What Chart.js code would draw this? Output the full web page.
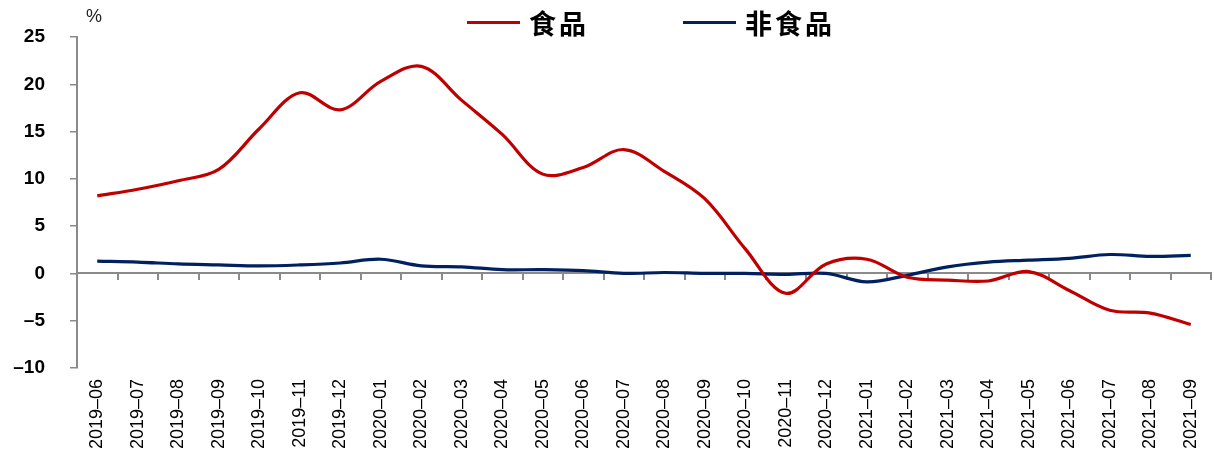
<!DOCTYPE html>
<html>
<head>
<meta charset="utf-8">
<script src="https://cdn.jsdelivr.net/npm/chart.js@4/dist/chart.umd.min.js"></script>
<style>
  html, body { margin: 0; padding: 0; background: #fff; }
  #wrap { position: relative; width: 1214px; height: 452px; overflow: hidden; }
  #c { position: absolute; left: 0; top: 0; }
  .unit { position: absolute; left: 86px; top: 6px; font: 18px "Liberation Sans", Arial, sans-serif; color: #222; }
  .leg { position: absolute; top: 5px; height: 34px; display: flex; align-items: center; white-space: nowrap;
         font: bold 27px "Noto Sans CJK SC", sans-serif; letter-spacing: 3px; color: #000; }
  .leg i { display: inline-block; width: 53px; height: 3px; margin-right: 9px; }
</style>
</head>
<body>
<div id="wrap">
  <canvas id="c" width="1214" height="452"></canvas>
  <div class="unit">%</div>
  <div id="legend"></div>
</div>
<script>
// Monthly categories, 2019-06 .. 2021-09
const months = [
  '2019–06', '2019–07', '2019–08', '2019–09', '2019–10', '2019–11', '2019–12',
  '2020–01', '2020–02', '2020–03', '2020–04', '2020–05', '2020–06', '2020–07',
  '2020–08', '2020–09', '2020–10', '2020–11', '2020–12', '2021–01', '2021–02',
  '2021–03', '2021–04', '2021–05', '2021–06', '2021–07', '2021–08', '2021–09'
];

// Year-on-year change, %
const foodYoY = [
  8.2, 8.9, 9.8, 11.0, 15.3, 19.1, 17.3,
  20.3, 21.9, 18.3, 14.7, 10.5, 11.2, 13.1,
  10.8, 7.9, 2.6, -2.1, 1.0, 1.5, -0.4,
  -0.7, -0.8, 0.2, -1.8, -3.9, -4.2, -5.4
];
const nonFoodYoY = [
  1.3, 1.2, 1.0, 0.9, 0.8, 0.9, 1.1,
  1.5, 0.8, 0.7, 0.4, 0.4, 0.3, 0.0,
  0.1, 0.0, 0.0, -0.1, 0.0, -0.9, -0.2,
  0.7, 1.2, 1.4, 1.6, 2.0, 1.8, 1.9
];

// Value axis range
const yMin = -10;
const yMax = 25;
const yStep = 5;

const seriesNames = ['食品', '非食品'];
const seriesColors = ['#C00000', '#002060'];

const AXIS_GRAY = '#8a8a8a';

const chart = new Chart(document.getElementById('c'), {
  type: 'line',
  data: {
    labels: months,
    datasets: [
      { label: seriesNames[0], data: foodYoY, borderColor: seriesColors[0], backgroundColor: seriesColors[0],
        borderWidth: 3.2, pointRadius: 0, tension: 0.35, xAxisID: 'x', yAxisID: 'y' },
      { label: seriesNames[1], data: nonFoodYoY, borderColor: seriesColors[1], backgroundColor: seriesColors[1],
        borderWidth: 3.2, pointRadius: 0, tension: 0.35, xAxisID: 'x', yAxisID: 'y' }
    ]
  },
  options: {
    responsive: false,
    animation: false,
    devicePixelRatio: 1,
    layout: { padding: { top: 37, right: 3, left: 0, bottom: 0 } },
    plugins: { legend: { display: false }, tooltip: { enabled: false } },
    scales: {
      // month labels along the bottom
      x: {
        type: 'category',
        position: 'bottom',
        offset: true,
        grid: { display: false, drawTicks: false },
        border: { display: false },
        ticks: {
          autoSkip: false, minRotation: 90, maxRotation: 90, padding: 11, color: '#000',
          font: { family: '"Liberation Sans Narrow", "Liberation Sans", Arial, sans-serif', size: 18 }
        },
        afterFit(s) { s.height = 84; s.paddingLeft = 0; s.paddingRight = 0; }
      },
      // category axis line crossing at zero, with boundary tick marks
      x0: {
        axis: 'x',
        type: 'category',
        position: { y: 0 },
        offset: true,
        grid: { offset: true, drawOnChartArea: false, drawTicks: true, tickLength: 6, tickColor: AXIS_GRAY, lineWidth: 2 },
        border: { display: true, color: AXIS_GRAY, width: 2 },
        ticks: { display: false },
        afterFit(s) { s.paddingLeft = 0; s.paddingRight = 0; }
      },
      y: {
        min: yMin,
        max: yMax,
        ticks: {
          stepSize: yStep, padding: 25, color: '#000',
          font: { family: '"Liberation Sans", Arial, sans-serif', weight: 'bold', size: 19 },
          callback: (v) => (v < 0 ? '–' + Math.abs(v) : String(v))
        },
        grid: { drawOnChartArea: false, tickLength: 7, tickColor: AXIS_GRAY, lineWidth: 1.5 },
        border: { color: AXIS_GRAY, width: 2 },
        afterFit(s) { s.width = 77; }
      }
    }
  }
});

// Legend built from the datasets
const legendLefts = [467, 683];
const legendEl = document.getElementById('legend');
chart.data.datasets.forEach((ds, i) => {
  const item = document.createElement('div');
  item.className = 'leg';
  item.style.left = legendLefts[i] + 'px';
  const swatch = document.createElement('i');
  swatch.style.background = ds.borderColor;
  item.appendChild(swatch);
  item.appendChild(document.createTextNode(ds.label));
  legendEl.appendChild(item);
});
</script>
</body>
</html>
